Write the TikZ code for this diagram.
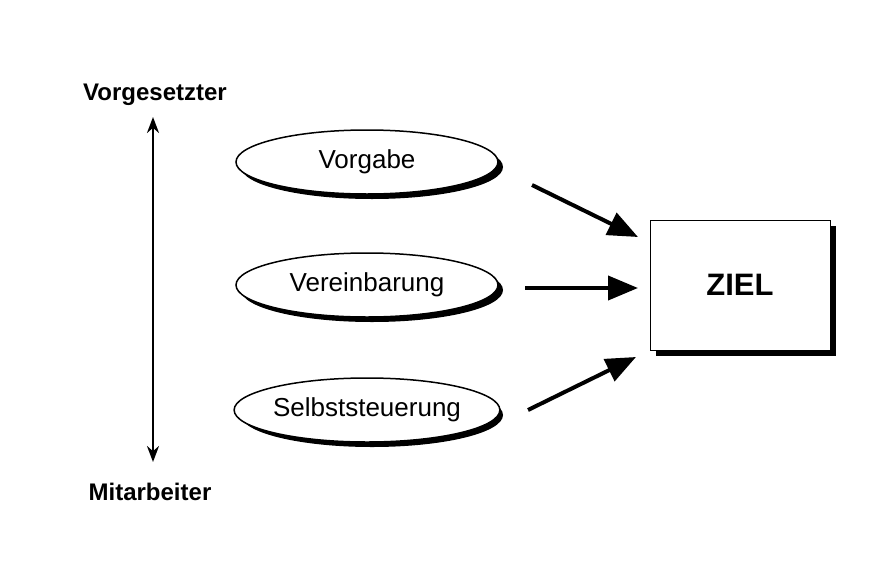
\documentclass[tikz,border=0pt]{standalone}
\usepackage{fontspec}
\setmainfont{Liberation Sans}
\usetikzlibrary{shapes.geometric,arrows.meta}
\begin{document}
\begin{tikzpicture}[x=1pt,y=-1pt,
  ell/.style={ellipse,draw,line width=1.5pt,fill=white,minimum width=262pt,minimum height=64pt,inner sep=0pt,font=\fontsize{26}{30}\selectfont},
  shad/.style={ellipse,fill=black,minimum width=262pt,minimum height=64pt},
  lab/.style={font=\bfseries\fontsize{24}{28}\selectfont},
  arr/.style={line width=4pt,-{Triangle[length=30pt,width=24pt]}}]
\useasboundingbox (0,0) rectangle (880,570);
\fill[white] (0,0) rectangle (880,570);
\node[lab] (vg) at (155,95) {Vorgesetzter};
\node[lab] (ma) at (150,492) {Mitarbeiter};
\coordinate (t) at (153,117);
\coordinate (b) at (153,462);
\draw[line width=2.5pt,{Stealth[length=16pt,width=12pt]}-{Stealth[length=16pt,width=12pt]}] (t) -- (b);
\foreach \n/\y in {s1/162,s2/285,s3/410}{\node[shad] (\n) at (372,\y+5) {};}
\node[ell] (e1) at (367,162) {Vorgabe};
\node[ell] (e2) at (367,285) {Vereinbarung};
\node[ell] (e3) at (367,410) {Selbststeuerung};
\fill[black] (656,226) rectangle (836,356);
\node[draw,line width=0.8pt,fill=white,minimum width=180pt,minimum height=130pt,font=\bfseries\fontsize{31}{36}\selectfont] (z) at (740,285) {ZIEL};
\coordinate (a1) at (532,185); \coordinate (b1) at (638,237);
\coordinate (a2) at (525,288); \coordinate (b2) at (638,288);
\coordinate (a3) at (528,410); \coordinate (b3) at (636,357);
\draw[arr] (a1) -- (b1);
\draw[arr] (a2) -- (b2);
\draw[arr] (a3) -- (b3);
\end{tikzpicture}
\end{document}
